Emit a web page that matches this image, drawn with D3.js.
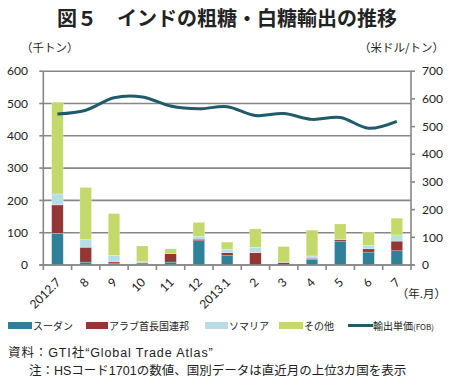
<!DOCTYPE html>
<html>
<head>
<meta charset="utf-8">
<script src="https://cdn.jsdelivr.net/npm/d3@7"></script>
<style>
  body { margin: 0; background: #fff; }
  text { font-family: "Noto Sans CJK JP", "Noto Sans", sans-serif; }
  .num { font-family: Lato, "Open Sans", sans-serif; }
  .note { font-family: "Liberation Sans", "Noto Sans CJK JP", sans-serif; }
</style>
</head>
<body>
<div id="chart"></div>
<script>
const width = 449;
const height = 381;

// data
const months = ["2012.7", "8", "9", "10", "11", "12", "2013.1", "2", "3", "4", "5", "6", "7"];
const sudan   = [98,   9,   6,  1,  9, 75, 29,  0,  0, 18, 74, 40, 44];
const uae     = [88,  46,   4,  5, 26,  5,  9, 38,  8,  3,  5, 10, 30];
const somalia = [34,  25,  20,  4,  0,  9, 11, 17,  1,  7,  1, 11, 19];
const others  = [284, 160, 129, 49, 15, 43, 22, 57, 48, 80, 47, 41, 52];
const price   = [545, 559, 604, 607, 574, 564, 572, 540, 547, 526, 533, 494, 519];
const leftTicks = [0, 100, 200, 300, 400, 500, 600];
const rightTicks = [0, 100, 200, 300, 400, 500, 600, 700];

const seriesNames = ["スーダン", "アラブ首長国連邦", "ソマリア", "その他"];
const colors = ["#2e8199", "#943634", "#b7dde8", "#c4d96b"];
const lineColor = "#215a68";
const gridColor = "#878787";

const plotLeft = 43.3;
const plotRight = 411;
const plotTop = 71.2;
const plotBottom = 265;

const svg = d3.select("#chart")
    .append("svg")
    .attr("width", width)
    .attr("height", height);

const xScale = d3.scaleBand()
    .domain(months)
    .range([plotLeft, plotRight])
    .paddingInner(0.59)
    .paddingOuter(0.295);

const yScale = d3.scaleLinear()
    .domain([0, 600])
    .range([plotBottom, plotTop]);

const yRight = d3.scaleLinear()
    .domain([0, 700])
    .range([plotBottom, plotTop]);

const step = xScale.step();
const center = d => xScale(d) + xScale.bandwidth() / 2;

// title
svg.append("text")
    .attr("x", 227)
    .attr("y", 26)
    .attr("text-anchor", "middle")
    .attr("font-size", 20)
    .attr("font-weight", "bold")
    .attr("fill", "#222")
    .text("図５　インドの粗糖・白糖輸出の推移");

svg.append("text")
    .attr("x", 21)
    .attr("y", 52)
    .attr("font-size", 11.5)
    .attr("fill", "#222")
    .text("（千トン）");

svg.append("text")
    .attr("x", 444)
    .attr("y", 52)
    .attr("text-anchor", "end")
    .attr("font-size", 11.5)
    .attr("fill", "#222")
    .text("（米ドル/トン）");

// gridlines
svg.append("g")
    .selectAll("line")
    .data(leftTicks)
    .join("line")
    .attr("x1", plotLeft)
    .attr("x2", plotRight)
    .attr("y1", d => yScale(d))
    .attr("y2", d => yScale(d))
    .attr("stroke", gridColor)
    .attr("stroke-width", 1.6);

// stacked bars
const rows = months.map((m, i) => ({
    month: m, s0: sudan[i], s1: uae[i], s2: somalia[i], s3: others[i]
}));
const stack = d3.stack().keys(["s0", "s1", "s2", "s3"])(rows);

svg.append("g")
    .selectAll("g")
    .data(stack)
    .join("g")
    .attr("fill", (d, i) => colors[i])
    .selectAll("rect")
    .data(d => d)
    .join("rect")
    .attr("x", d => xScale(d.data.month))
    .attr("y", d => yScale(d[1]))
    .attr("width", xScale.bandwidth())
    .attr("height", d => yScale(d[0]) - yScale(d[1]))
    .attr("stroke", "#fff")
    .attr("stroke-opacity", 0.5)
    .attr("stroke-width", 0.5);

// axes lines
const axisG = svg.append("g").attr("stroke", gridColor).attr("stroke-width", 1.6);
axisG.append("line")
    .attr("x1", plotLeft).attr("x2", plotLeft)
    .attr("y1", plotTop).attr("y2", plotBottom);
axisG.append("line")
    .attr("x1", plotRight).attr("x2", plotRight)
    .attr("y1", plotTop).attr("y2", plotBottom);
axisG.append("line")
    .attr("x1", plotLeft - 4).attr("x2", plotRight + 4)
    .attr("y1", plotBottom).attr("y2", plotBottom);

axisG.selectAll(".lt")
    .data(leftTicks)
    .join("line")
    .attr("x1", plotLeft - 4).attr("x2", plotLeft)
    .attr("y1", d => yScale(d)).attr("y2", d => yScale(d));

axisG.selectAll(".rt")
    .data(rightTicks)
    .join("line")
    .attr("class", "rt")
    .attr("x1", plotRight).attr("x2", plotRight + 4)
    .attr("y1", d => yRight(d)).attr("y2", d => yRight(d));

const boundaries = months.map(m => xScale(m) - step * xScale.paddingOuter())
    .concat([plotRight]);
axisG.selectAll(".bt")
    .data(boundaries)
    .join("line")
    .attr("class", "bt")
    .attr("x1", d => d).attr("x2", d => d)
    .attr("y1", plotBottom).attr("y2", plotBottom + 5);

// tick labels
svg.append("g")
    .selectAll("text")
    .data(leftTicks)
    .join("text")
    .attr("class", "num")
    .attr("x", 28)
    .attr("y", d => yScale(d))
    .attr("dy", "0.35em")
    .attr("text-anchor", "end")
    .attr("font-size", 12)
    .attr("fill", "#222")
    .text(d => d);

svg.append("g")
    .selectAll("text")
    .data(rightTicks)
    .join("text")
    .attr("class", "num")
    .attr("x", 422)
    .attr("y", d => yRight(d))
    .attr("dy", "0.35em")
    .attr("font-size", 12)
    .attr("fill", "#222")
    .text(d => d);

svg.append("g")
    .selectAll("text")
    .data(months)
    .join("text")
    .attr("class", "num")
    .attr("text-anchor", "end")
    .attr("font-size", 12)
    .attr("fill", "#222")
    .attr("transform", d => `translate(${center(d) + 4},${plotBottom + 18}) rotate(-45)`)
    .text(d => d);

svg.append("text")
    .attr("x", 446)
    .attr("y", 298)
    .attr("text-anchor", "end")
    .attr("font-size", 11.5)
    .attr("fill", "#222")
    .text("（年.月）");

// price line
const line = d3.line()
    .x((d, i) => center(months[i]))
    .y(d => yRight(d))
    .curve(d3.curveCatmullRom.alpha(0.5));

svg.append("path")
    .datum(price)
    .attr("fill", "none")
    .attr("stroke", lineColor)
    .attr("stroke-width", 3)
    .attr("d", line);

// legend
const legendItems = [
    { x: 8, w: 24, name: seriesNames[0], color: colors[0] },
    { x: 86, w: 22, name: seriesNames[1], color: colors[1] },
    { x: 205, w: 23, name: seriesNames[2], color: colors[2] },
    { x: 279, w: 24, name: seriesNames[3], color: colors[3] }
];
const legend = svg.append("g");
legendItems.forEach(d => {
    legend.append("rect")
        .attr("x", d.x).attr("y", 322)
        .attr("width", d.w).attr("height", 7)
        .attr("fill", d.color);
    legend.append("text")
        .attr("x", d.x + d.w + 1)
        .attr("y", 330)
        .attr("font-size", 10)
        .attr("fill", "#222")
        .text(d.name);
});
legend.append("line")
    .attr("x1", 348).attr("x2", 373)
    .attr("y1", 325.5).attr("y2", 325.5)
    .attr("stroke", lineColor)
    .attr("stroke-width", 3);
const lt = legend.append("text")
    .attr("x", 373)
    .attr("y", 330)
    .attr("font-size", 10)
    .attr("fill", "#222");
lt.append("tspan").text("輸出単価");
lt.append("tspan").attr("font-size", 8).text("(FOB)");

// notes
svg.append("text")
    .attr("class", "note")
    .attr("x", 8)
    .attr("y", 357)
    .attr("font-size", 12.5)
    .attr("letter-spacing", 0.9)
    .attr("fill", "#222")
    .text("資料：GTI社“Global Trade Atlas”");

svg.append("text")
    .attr("class", "note")
    .attr("x", 29)
    .attr("y", 375)
    .attr("font-size", 12.5)
    .attr("fill", "#222")
    .text("注：HSコード1701の数値、国別データは直近月の上位3カ国を表示");
</script>
</body>
</html>
